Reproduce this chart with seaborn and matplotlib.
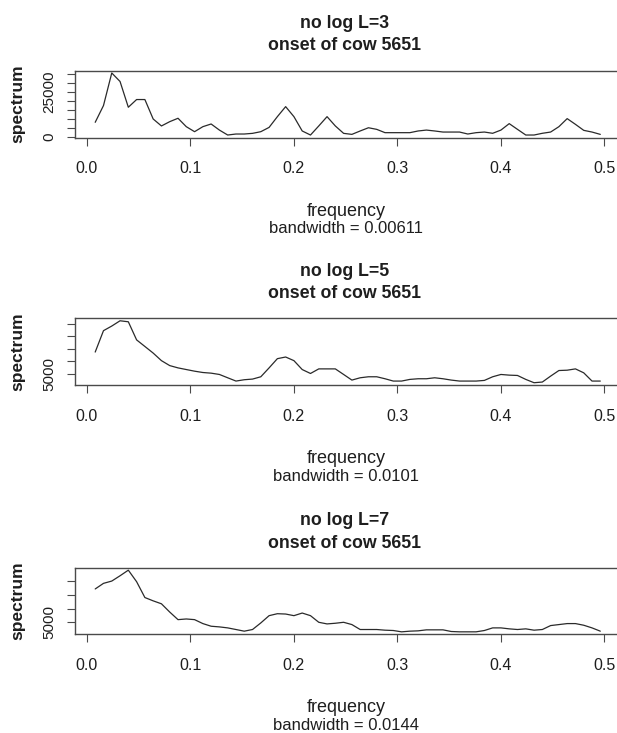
import numpy as np
import pandas as pd
import seaborn as sns
import matplotlib
matplotlib.use("Agg")
import matplotlib.pyplot as plt
from matplotlib.ticker import FixedLocator, MultipleLocator, FuncFormatter

# Smoothed periodogram ordinates, Fourier frequencies k / 125 (k = 1..62)
N_OBS = 125
freq = np.arange(1, 63) / N_OBS

spec_L3 = [8040, 17400, 35600, 30850, 16460, 20760, 20760, 9900, 6000, 8400,
           10300, 5600, 2800, 5600, 7100, 3700, 940, 1500, 1500, 1870,
           2800, 5200, 11200, 16800, 11200, 3200, 940, 6000, 11200, 6000,
           1870, 1300, 3200, 5000, 4100, 2250, 2250, 2250, 2250, 3200,
           3700, 3200, 2600, 2600, 2600, 1500, 2250, 2600, 1900, 3700,
           7300, 4100, 940, 940, 1900, 2600, 5600, 10100, 6900, 3550,
           2600, 1300]

spec_L5 = [13640, 22160, 24000, 26100, 25700, 18490, 15870, 13240, 10220, 8250,
           7340, 6680, 6030, 5500, 5240, 4720, 3400, 2090, 2620, 2880,
           3800, 7340, 11010, 11670, 10220, 6680, 5110, 6940, 6940, 6940,
           4720, 2480, 3400, 3800, 3800, 3010, 2090, 2090, 2750, 3010,
           3010, 3400, 3010, 2480, 2090, 2090, 2090, 2350, 3800, 4720,
           4450, 4320, 2750, 1430, 1700, 4060, 6290, 6420, 6940, 5370,
           2090, 2090]

spec_L7 = [17120, 19150, 19980, 21900, 23930, 19750, 14010, 12810, 11740, 8750,
           6000, 6240, 6000, 4570, 3610, 3370, 3010, 2420, 1820, 2420,
           4810, 7440, 8150, 8030, 7440, 8390, 7440, 5040, 4450, 4690,
           5040, 4210, 2420, 2420, 2420, 2180, 2060, 1580, 1820, 1940,
           2300, 2300, 2300, 1700, 1580, 1580, 1580, 2060, 3010, 3010,
           2660, 2420, 2660, 2180, 2420, 3850, 4210, 4570, 4570, 3970,
           3010, 1820]

series = [spec_L3, spec_L5, spec_L7]
spans = [3, 5, 7]
bandwidths = ["0.00611", "0.0101", "0.0144"]
subject = "onset of cow 5651"
x_ticks = [0.0, 0.1, 0.2, 0.3, 0.4, 0.5]
x_tick_labels = ["0.0", "0.1", "0.2", "0.3", "0.4", "0.5"]
y_tick_labels = [{0: "0", 25000: "25000"}, {5000: "5000"}, {5000: "5000"}]

sns.set_theme(style="white")
plt.rcParams["font.family"] = ["Liberation Sans", "DejaVu Sans"]

W, H = 617, 733
fig = plt.figure(figsize=(W / 100, H / 100), dpi=100)
fig.patch.set_facecolor("white")

PX = 0.72  # points per pixel at 100 dpi
left, right = 75.0, 620.5
boxes = [(70.5, 137.5), (318.3, 385.2), (567.7, 634.3)]
edge = "#4a4a4a"
ink = "#1e1e1e"

for values, L, bw, labels, (top, bot) in zip(series, spans, bandwidths, y_tick_labels, boxes):
    ax = fig.add_axes([left / W, (H - bot) / H, (right - left) / W, (bot - top) / H])
    df = pd.DataFrame({"frequency": freq, "spectrum": values})
    sns.lineplot(data=df, x="frequency", y="spectrum", ax=ax,
                 color="#2a2a2a", linewidth=0.9)
    ax.margins(x=0.04, y=0.04)
    ax.set_facecolor("white")
    for sp in ax.spines.values():
        sp.set_visible(True)
        sp.set_color(edge)
        sp.set_linewidth(1.0)

    ax.xaxis.set_major_locator(FixedLocator(x_ticks))
    ax.set_xticklabels(x_tick_labels)
    ax.yaxis.set_major_locator(MultipleLocator(5000))
    ax.yaxis.set_major_formatter(FuncFormatter(
        lambda v, pos, lab=labels: lab.get(int(round(v)), "")))
    ax.tick_params(axis="both", which="major", direction="out", length=5.5,
                   width=0.8, color=edge, labelcolor=ink,
                   bottom=True, left=True, top=False, right=False)
    ax.tick_params(axis="x", pad=11.5, labelsize=11.5)
    ax.tick_params(axis="y", pad=8, labelsize=11)
    for t in ax.get_yticklabels():
        t.set_rotation(90)
        t.set_verticalalignment("center")
        t.set_horizontalalignment("right")

    ax.set_xlabel("")
    ax.set_ylabel("spectrum", fontsize=12.5, fontweight="bold", color=ink,
                  va="center")
    ax.yaxis.set_label_coords(-(57.0) / (right - left), 0.5)

    ax.annotate(f"no log L={L}", xy=(0.5, 1), xycoords="axes fraction",
                xytext=(-2, 47 * PX), textcoords="offset points",
                ha="center", va="center", fontsize=12.8, fontweight="bold",
                color=ink)
    ax.annotate(subject, xy=(0.5, 1), xycoords="axes fraction",
                xytext=(-2, 24.5 * PX), textcoords="offset points",
                ha="center", va="center", fontsize=12.8, fontweight="bold",
                color=ink)
    ax.annotate("frequency", xy=(0.5, 0), xycoords="axes fraction",
                xytext=(-1, -73.5 * PX), textcoords="offset points",
                ha="center", va="center", fontsize=13, color=ink)
    ax.annotate(f"bandwidth = {bw}", xy=(0.5, 0), xycoords="axes fraction",
                xytext=(-1, -91 * PX), textcoords="offset points",
                ha="center", va="center", fontsize=12, color=ink)

fig.savefig("out.png", dpi=100, facecolor="white")
